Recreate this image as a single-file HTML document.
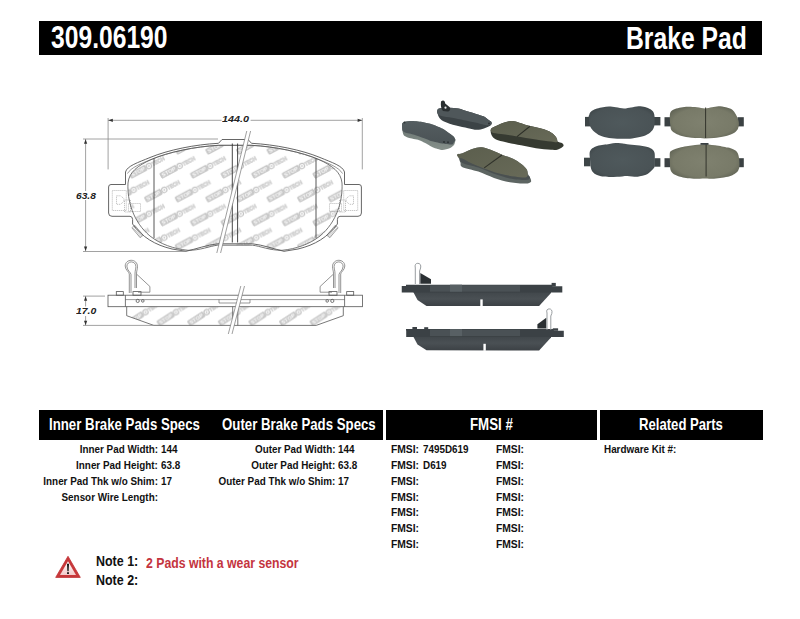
<!DOCTYPE html>
<html><head><meta charset="utf-8"><style>
html,body{margin:0;padding:0;background:#fff;}
body{width:800px;height:619px;position:relative;overflow:hidden;font-family:"Liberation Sans",sans-serif;font-weight:bold;color:#111;}
.a{position:absolute;white-space:nowrap;line-height:1;transform-origin:0 0;}
.bar{position:absolute;background:#000;}
.w{color:#fff;}
.t{font-size:10.85px;transform:scaleX(0.91);}
.f{transform:scaleX(0.95);}
.lr{transform-origin:100% 0;}
.h{font-size:16.5px;top:416.1px;color:#fff;}
.dim{font-style:italic;font-weight:bold;color:#222;}
svg{position:absolute;left:0;top:0;}
</style></head><body>
<!-- top bar -->
<div class="bar" style="left:39px;top:20.5px;width:722.6px;height:34.2px"></div>
<div class="a w" style="left:51px;top:21.8px;font-size:31.14px;transform:scaleX(0.792)">309.06190</div>
<div class="a w" style="left:625.9px;top:23.1px;font-size:31px;transform:scaleX(0.797)">Brake Pad</div>
<svg width="800" height="619" viewBox="0 0 800 619">
<defs><pattern id="st" patternUnits="userSpaceOnUse" x="0" y="0" width="30.6" height="47.8" patternTransform="translate(162,178.8)">
<g><g transform="rotate(-28)">
<rect x="0.4" y="-5.8" width="17.7" height="5.4" rx="0.6" fill="#cacaca" stroke="#bcbcbc" stroke-width="0.7"/>
<text x="1.6" y="-1.3" font-family="Liberation Sans" font-weight="bold" font-size="5.2" fill="#fafafa" textLength="15.3" lengthAdjust="spacingAndGlyphs">STOP</text>
<circle cx="21.6" cy="-3.1" r="2.6" fill="none" stroke="#c0c0c0" stroke-width="1.1"/>
<circle cx="21.6" cy="-3.1" r="1" fill="#cdcdcd"/>
<text x="24.8" y="-1.1" font-family="Liberation Sans" font-weight="bold" font-size="5.6" fill="none" stroke="#cbcbcb" stroke-width="0.65" textLength="14" lengthAdjust="spacingAndGlyphs">TECH</text>
</g></g>
<g transform="translate(15.3,23.9)"><g transform="rotate(-28)">
<rect x="0.4" y="-5.8" width="17.7" height="5.4" rx="0.6" fill="#cacaca" stroke="#bcbcbc" stroke-width="0.7"/>
<text x="1.6" y="-1.3" font-family="Liberation Sans" font-weight="bold" font-size="5.2" fill="#fafafa" textLength="15.3" lengthAdjust="spacingAndGlyphs">STOP</text>
<circle cx="21.6" cy="-3.1" r="2.6" fill="none" stroke="#c0c0c0" stroke-width="1.1"/>
<circle cx="21.6" cy="-3.1" r="1" fill="#cdcdcd"/>
<text x="24.8" y="-1.1" font-family="Liberation Sans" font-weight="bold" font-size="5.6" fill="none" stroke="#cbcbcb" stroke-width="0.65" textLength="14" lengthAdjust="spacingAndGlyphs">TECH</text>
</g></g>
<g transform="translate(-15.3,23.9)"><g transform="rotate(-28)">
<rect x="0.4" y="-5.8" width="17.7" height="5.4" rx="0.6" fill="#cacaca" stroke="#bcbcbc" stroke-width="0.7"/>
<text x="1.6" y="-1.3" font-family="Liberation Sans" font-weight="bold" font-size="5.2" fill="#fafafa" textLength="15.3" lengthAdjust="spacingAndGlyphs">STOP</text>
<circle cx="21.6" cy="-3.1" r="2.6" fill="none" stroke="#c0c0c0" stroke-width="1.1"/>
<circle cx="21.6" cy="-3.1" r="1" fill="#cdcdcd"/>
<text x="24.8" y="-1.1" font-family="Liberation Sans" font-weight="bold" font-size="5.6" fill="none" stroke="#cbcbcb" stroke-width="0.65" textLength="14" lengthAdjust="spacingAndGlyphs">TECH</text>
</g></g>
<g transform="translate(30.6,0)"><g transform="rotate(-28)">
<rect x="0.4" y="-5.8" width="17.7" height="5.4" rx="0.6" fill="#cacaca" stroke="#bcbcbc" stroke-width="0.7"/>
<text x="1.6" y="-1.3" font-family="Liberation Sans" font-weight="bold" font-size="5.2" fill="#fafafa" textLength="15.3" lengthAdjust="spacingAndGlyphs">STOP</text>
<circle cx="21.6" cy="-3.1" r="2.6" fill="none" stroke="#c0c0c0" stroke-width="1.1"/>
<circle cx="21.6" cy="-3.1" r="1" fill="#cdcdcd"/>
<text x="24.8" y="-1.1" font-family="Liberation Sans" font-weight="bold" font-size="5.6" fill="none" stroke="#cbcbcb" stroke-width="0.65" textLength="14" lengthAdjust="spacingAndGlyphs">TECH</text>
</g></g>
<g transform="translate(0,47.8)"><g transform="rotate(-28)">
<rect x="0.4" y="-5.8" width="17.7" height="5.4" rx="0.6" fill="#cacaca" stroke="#bcbcbc" stroke-width="0.7"/>
<text x="1.6" y="-1.3" font-family="Liberation Sans" font-weight="bold" font-size="5.2" fill="#fafafa" textLength="15.3" lengthAdjust="spacingAndGlyphs">STOP</text>
<circle cx="21.6" cy="-3.1" r="2.6" fill="none" stroke="#c0c0c0" stroke-width="1.1"/>
<circle cx="21.6" cy="-3.1" r="1" fill="#cdcdcd"/>
<text x="24.8" y="-1.1" font-family="Liberation Sans" font-weight="bold" font-size="5.6" fill="none" stroke="#cbcbcb" stroke-width="0.65" textLength="14" lengthAdjust="spacingAndGlyphs">TECH</text>
</g></g>
<g transform="translate(30.6,47.8)"><g transform="rotate(-28)">
<rect x="0.4" y="-5.8" width="17.7" height="5.4" rx="0.6" fill="#cacaca" stroke="#bcbcbc" stroke-width="0.7"/>
<text x="1.6" y="-1.3" font-family="Liberation Sans" font-weight="bold" font-size="5.2" fill="#fafafa" textLength="15.3" lengthAdjust="spacingAndGlyphs">STOP</text>
<circle cx="21.6" cy="-3.1" r="2.6" fill="none" stroke="#c0c0c0" stroke-width="1.1"/>
<circle cx="21.6" cy="-3.1" r="1" fill="#cdcdcd"/>
<text x="24.8" y="-1.1" font-family="Liberation Sans" font-weight="bold" font-size="5.6" fill="none" stroke="#cbcbcb" stroke-width="0.65" textLength="14" lengthAdjust="spacingAndGlyphs">TECH</text>
</g></g>
<g transform="translate(-15.3,-23.9)"><g transform="rotate(-28)">
<rect x="0.4" y="-5.8" width="17.7" height="5.4" rx="0.6" fill="#cacaca" stroke="#bcbcbc" stroke-width="0.7"/>
<text x="1.6" y="-1.3" font-family="Liberation Sans" font-weight="bold" font-size="5.2" fill="#fafafa" textLength="15.3" lengthAdjust="spacingAndGlyphs">STOP</text>
<circle cx="21.6" cy="-3.1" r="2.6" fill="none" stroke="#c0c0c0" stroke-width="1.1"/>
<circle cx="21.6" cy="-3.1" r="1" fill="#cdcdcd"/>
<text x="24.8" y="-1.1" font-family="Liberation Sans" font-weight="bold" font-size="5.6" fill="none" stroke="#cbcbcb" stroke-width="0.65" textLength="14" lengthAdjust="spacingAndGlyphs">TECH</text>
</g></g>
<g transform="translate(15.3,-23.9)"><g transform="rotate(-28)">
<rect x="0.4" y="-5.8" width="17.7" height="5.4" rx="0.6" fill="#cacaca" stroke="#bcbcbc" stroke-width="0.7"/>
<text x="1.6" y="-1.3" font-family="Liberation Sans" font-weight="bold" font-size="5.2" fill="#fafafa" textLength="15.3" lengthAdjust="spacingAndGlyphs">STOP</text>
<circle cx="21.6" cy="-3.1" r="2.6" fill="none" stroke="#c0c0c0" stroke-width="1.1"/>
<circle cx="21.6" cy="-3.1" r="1" fill="#cdcdcd"/>
<text x="24.8" y="-1.1" font-family="Liberation Sans" font-weight="bold" font-size="5.6" fill="none" stroke="#cbcbcb" stroke-width="0.65" textLength="14" lengthAdjust="spacingAndGlyphs">TECH</text>
</g></g>
<g transform="translate(-30.6,0)"><g transform="rotate(-28)">
<rect x="0.4" y="-5.8" width="17.7" height="5.4" rx="0.6" fill="#cacaca" stroke="#bcbcbc" stroke-width="0.7"/>
<text x="1.6" y="-1.3" font-family="Liberation Sans" font-weight="bold" font-size="5.2" fill="#fafafa" textLength="15.3" lengthAdjust="spacingAndGlyphs">STOP</text>
<circle cx="21.6" cy="-3.1" r="2.6" fill="none" stroke="#c0c0c0" stroke-width="1.1"/>
<circle cx="21.6" cy="-3.1" r="1" fill="#cdcdcd"/>
<text x="24.8" y="-1.1" font-family="Liberation Sans" font-weight="bold" font-size="5.6" fill="none" stroke="#cbcbcb" stroke-width="0.65" textLength="14" lengthAdjust="spacingAndGlyphs">TECH</text>
</g></g>
<g transform="translate(-30.6,47.8)"><g transform="rotate(-28)">
<rect x="0.4" y="-5.8" width="17.7" height="5.4" rx="0.6" fill="#cacaca" stroke="#bcbcbc" stroke-width="0.7"/>
<text x="1.6" y="-1.3" font-family="Liberation Sans" font-weight="bold" font-size="5.2" fill="#fafafa" textLength="15.3" lengthAdjust="spacingAndGlyphs">STOP</text>
<circle cx="21.6" cy="-3.1" r="2.6" fill="none" stroke="#c0c0c0" stroke-width="1.1"/>
<circle cx="21.6" cy="-3.1" r="1" fill="#cdcdcd"/>
<text x="24.8" y="-1.1" font-family="Liberation Sans" font-weight="bold" font-size="5.6" fill="none" stroke="#cbcbcb" stroke-width="0.65" textLength="14" lengthAdjust="spacingAndGlyphs">TECH</text>
</g></g>
</pattern>
<clipPath id="fc"><path d="M 235,145.3 L 218.8,145.3 C 195,146.5 168,152.2 151,159.6 C 138,165.5 129,172 128,183 C 127,200 133,222 150,236 C 160,244 174,249 188,250.3 C 200,250.5 210,246 217.5,245.2 L 235,245.2 L 252.5,245.2 C 260,246 270,250.5 282,250.3 C 296,249 310,244 320,236 C 337,222 343,200 342,183 C 341,172 332,165.5 319,159.6 C 302,152.2 275,146.5 251.2,145.3 L 235,145.3 Z"/></clipPath>
</defs>
<path d="M 235,145.3 L 218.8,145.3 C 195,146.5 168,152.2 151,159.6 C 138,165.5 129,172 128,183 C 127,200 133,222 150,236 C 160,244 174,249 188,250.3 C 200,250.5 210,246 217.5,245.2 L 235,245.2 L 252.5,245.2 C 260,246 270,250.5 282,250.3 C 296,249 310,244 320,236 C 337,222 343,200 342,183 C 341,172 332,165.5 319,159.6 C 302,152.2 275,146.5 251.2,145.3 L 235,145.3 Z" fill="#fff"/>
<rect x="100" y="130" width="270" height="130" fill="url(#st)" clip-path="url(#fc)"/>
<g stroke="#9a9a9a" stroke-width="0.6" fill="none" stroke-dasharray="1.2 0.8">
<path d="M116.5,195.8 L120.5,195.8 L123.8,198.5 L123.8,201.5 L120.5,204.3 L116.5,204.3 Z"/>
<rect x="112.3" y="190.5" width="14" height="20"/>
<rect x="124.5" y="200" width="6" height="12"/>
<rect x="128.5" y="203.5" width="12" height="8"/>
</g>
<g transform="rotate(50 137.5 231.5)"><rect x="131" y="229.6" width="13" height="3.8" fill="#fff" stroke="#777" stroke-width="0.6"/>
<path d="M132.5,229.6v3.8M134,229.6v3.8M135.5,229.6v3.8M137,229.6v3.8M138.5,229.6v3.8M140,229.6v3.8M141.5,229.6v3.8M143,229.6v3.8" stroke="#888" stroke-width="0.5"/></g><g transform="translate(470.0,0) scale(-1,1)"><g stroke="#9a9a9a" stroke-width="0.6" fill="none" stroke-dasharray="1.2 0.8">
<path d="M116.5,195.8 L120.5,195.8 L123.8,198.5 L123.8,201.5 L120.5,204.3 L116.5,204.3 Z"/>
<rect x="112.3" y="190.5" width="14" height="20"/>
<rect x="124.5" y="200" width="6" height="12"/>
<rect x="128.5" y="203.5" width="12" height="8"/>
</g>
<g transform="rotate(50 137.5 231.5)"><rect x="131" y="229.6" width="13" height="3.8" fill="#fff" stroke="#777" stroke-width="0.6"/>
<path d="M132.5,229.6v3.8M134,229.6v3.8M135.5,229.6v3.8M137,229.6v3.8M138.5,229.6v3.8M140,229.6v3.8M141.5,229.6v3.8M143,229.6v3.8" stroke="#888" stroke-width="0.5"/></g></g>
<path d="M 235,139.5 L 222,139.5 L 218.5,143.3 C 195,144.5 168,150 150,157.5 C 138,162.5 127,166 125.5,172 L 125.5,184.5 L 111,184.5 Q 108.6,184.5 108.6,187 L 108.6,213 Q 108.6,216.3 112,216.3 L 130,216.3 Q 132.6,216.5 132.6,219.5 L 132.6,224 C 142,237 155,245 172,249 L 186,251.3 C 196,249 207,245 217.5,243.8 L 235,243.8 L 252.5,243.8 C 263,245 274,249 284,251.3 L 298,249 C 315,245 328,237 337.4,224 L 337.4,219.5 Q 337.4,216.5 340,216.3 L 358,216.3 Q 361.4,216.3 361.4,213 L 361.4,187 Q 361.4,184.5 359,184.5 L 344.5,184.5 L 344.5,172 C 343,166 332,162.5 320,157.5 C 302,150 275,144.5 251.5,143.3 L 248,139.5 L 235,139.5 Z" fill="none" stroke="#555" stroke-width="0.9"/>
<path d="M 235,145.3 L 218.8,145.3 C 195,146.5 168,152.2 151,159.6 C 141,163.5 131,167.5 127.5,173.5 M 235,145.3 L 251.2,145.3 C 275,146.5 302,152.2 319,159.6 C 329,163.5 339,167.5 342.5,173.5" fill="none" stroke="#555" stroke-width="0.6"/>
<path d="M 235,145.3 L 218.8,145.3 C 195,146.5 168,152.2 151,159.6 C 138,165.5 129,172 128,183 C 127,200 133,222 150,236 C 160,244 174,249 188,250.3 C 200,250.5 210,246 217.5,245.2 L 235,245.2 L 252.5,245.2 C 260,246 270,250.5 282,250.3 C 296,249 310,244 320,236 C 337,222 343,200 342,183 C 341,172 332,165.5 319,159.6 C 302,152.2 275,146.5 251.2,145.3 L 235,145.3 Z" fill="none" stroke="#555" stroke-width="0.8"/>
<path d="M154,158.5 V238 M316,158.5 V238" stroke="#444" stroke-width="0.9"/>
<path d="M232.3,143.5 V242.5 M237.6,143.5 V242.5" stroke="#333" stroke-width="0.9"/>
<path d="M246.75,131 L250.6,131 L220.6,253 L216.8,253 Z" fill="#fff"/>
<path d="M246.75,131 L216.8,253 M250.6,131 L220.6,253" stroke="#777" stroke-width="0.7"/>

<defs><clipPath id="sc"><path d="M126.7,306.7 V315.7 L153.8,325.4 H316.2 L343.3,315.7 V306.7 Z"/></clipPath>
<pattern id="st2" patternUnits="userSpaceOnUse" width="30.6" height="200" patternTransform="translate(129,226.5)">
<g transform="translate(0,100)"><g transform="rotate(-33)">
<rect x="0.4" y="-5.8" width="17.7" height="5.4" rx="0.6" fill="#cacaca" stroke="#bcbcbc" stroke-width="0.7"/>
<text x="1.6" y="-1.3" font-family="Liberation Sans" font-weight="bold" font-size="5.2" fill="#fafafa" textLength="15.3" lengthAdjust="spacingAndGlyphs">STOP</text>
<circle cx="21.6" cy="-3.1" r="2.6" fill="none" stroke="#c0c0c0" stroke-width="1.1"/>
<circle cx="21.6" cy="-3.1" r="1" fill="#cdcdcd"/>
<text x="24.8" y="-1.1" font-family="Liberation Sans" font-weight="bold" font-size="5.6" fill="none" stroke="#cbcbcb" stroke-width="0.65" textLength="14" lengthAdjust="spacingAndGlyphs">TECH</text>
</g></g><g transform="translate(30.6,100)"><g transform="rotate(-33)">
<rect x="0.4" y="-5.8" width="17.7" height="5.4" rx="0.6" fill="#cacaca" stroke="#bcbcbc" stroke-width="0.7"/>
<text x="1.6" y="-1.3" font-family="Liberation Sans" font-weight="bold" font-size="5.2" fill="#fafafa" textLength="15.3" lengthAdjust="spacingAndGlyphs">STOP</text>
<circle cx="21.6" cy="-3.1" r="2.6" fill="none" stroke="#c0c0c0" stroke-width="1.1"/>
<circle cx="21.6" cy="-3.1" r="1" fill="#cdcdcd"/>
<text x="24.8" y="-1.1" font-family="Liberation Sans" font-weight="bold" font-size="5.6" fill="none" stroke="#cbcbcb" stroke-width="0.65" textLength="14" lengthAdjust="spacingAndGlyphs">TECH</text>
</g></g><g transform="translate(-30.6,100)"><g transform="rotate(-33)">
<rect x="0.4" y="-5.8" width="17.7" height="5.4" rx="0.6" fill="#cacaca" stroke="#bcbcbc" stroke-width="0.7"/>
<text x="1.6" y="-1.3" font-family="Liberation Sans" font-weight="bold" font-size="5.2" fill="#fafafa" textLength="15.3" lengthAdjust="spacingAndGlyphs">STOP</text>
<circle cx="21.6" cy="-3.1" r="2.6" fill="none" stroke="#c0c0c0" stroke-width="1.1"/>
<circle cx="21.6" cy="-3.1" r="1" fill="#cdcdcd"/>
<text x="24.8" y="-1.1" font-family="Liberation Sans" font-weight="bold" font-size="5.6" fill="none" stroke="#cbcbcb" stroke-width="0.65" textLength="14" lengthAdjust="spacingAndGlyphs">TECH</text>
</g></g>
</pattern></defs>
<rect x="120" y="300" width="230" height="30" fill="url(#st2)" clip-path="url(#sc)" transform="translate(0,0)"/>
<g stroke="#555" stroke-width="0.8" fill="none">
<rect x="108" y="295.2" width="254.4" height="11.5"/>
<path d="M125.4,295.2 V306.7 M344.6,295.2 V306.7"/>
<path d="M125.4,299.6 H344.6" stroke-width="0.6"/>
<path d="M126.7,306.7 V315.7 L153.8,325.4 H316.2 L343.3,315.7 V306.7"/>
<path d="M232.7,306.7 V325.4 M237.8,306.7 V325.4"/>
<path d="M219,299.6 V303 H250 V299.6" stroke-width="0.6"/>
<rect x="116.3" y="291.6" width="7" height="3.6"/>
<rect x="133" y="291.6" width="8" height="3.6"/>
<rect x="346.7" y="291.6" width="7" height="3.6"/>
<rect x="329" y="291.6" width="8" height="3.6"/>
<circle cx="137.7" cy="300.9" r="1.6"/><circle cx="142.8" cy="300.9" r="1.3"/>
<circle cx="332.3" cy="300.9" r="1.6"/><circle cx="327.2" cy="300.9" r="1.3"/>
</g>
<g id="clipL" stroke="#666" stroke-width="0.7" fill="none">
<path d="M129.3,293 V274 C129.3,272 125.2,270 125.2,266 C125.2,262.5 128,260.3 131.3,260.3 C134.8,260.3 137.5,263 137.5,266.5 C137.5,269 136.5,271 136.5,274 V288"/>
<path d="M131,293 V274.5 C131,272.5 126.9,270.5 126.9,266.2 C126.9,263.6 129,261.9 131.3,261.9 C134,261.9 135.9,264 135.9,266.5 C135.9,268.7 135,270.5 135,274 V288"/>
<path d="M137,274.5 L149.9,286.5 V292.2 H138"/>
</g>
<use href="#clipL" transform="translate(470,0) scale(-1,1)"/>
<path d="M240.8,286 L244.5,286 L232,334 L228.3,334 Z" fill="#fff"/>
<path d="M240.8,286 L228.3,334 M244.5,286 L232,334" stroke="#777" stroke-width="0.7"/>

<g stroke="#8a8a8a" stroke-width="0.8" fill="none">
<path d="M108.1,120.3 H221.6 M250.6,120.3 H362.3"/>
<path d="M108.1,118 V169.4 M362.3,118 V169.4"/>
<path d="M85.6,139 V191 M85.6,200 V251.3"/>
<path d="M83,139 H218 M83,251.5 H186"/>
<path d="M85.6,296.1 V306.5 M85.6,316 V325.4"/>
<path d="M83,296.1 H105 M83,325.4 H160"/>
</g>
<path d="M108.3,120.3 l4.5,-1.6 v3.2 Z" fill="#333"/><path d="M362.1,120.3 l-4.5,-1.6 v3.2 Z" fill="#333"/>
<path d="M85.6,139.2 l-1.6,4.5 h3.2 Z" fill="#333"/><path d="M85.6,251.1 l-1.6,-4.5 h3.2 Z" fill="#333"/>
<path d="M85.6,296.3 l-1.6,4.5 h3.2 Z" fill="#333"/><path d="M85.6,325.2 l-1.6,-4.5 h3.2 Z" fill="#333"/>
</svg><svg width="800" height="619" viewBox="0 0 800 619">
<defs>
<radialGradient id="gE" cx="0.5" cy="0.5" r="0.6"><stop offset="0" stop-color="#4f595c"/><stop offset="0.8" stop-color="#4a5356"/><stop offset="1" stop-color="#3f474a"/></radialGradient>
<radialGradient id="gF" cx="0.5" cy="0.5" r="0.6"><stop offset="0" stop-color="#7f816f"/><stop offset="0.75" stop-color="#787a68"/><stop offset="1" stop-color="#5f6254"/></radialGradient>
<linearGradient id="gA" x1="0" y1="0" x2="0" y2="1"><stop offset="0" stop-color="#545d60"/><stop offset="1" stop-color="#4a5255"/></linearGradient>
<linearGradient id="gAs" x1="0" y1="0" x2="0" y2="1"><stop offset="0" stop-color="#65706c"/><stop offset="1" stop-color="#86908b"/></linearGradient>
<linearGradient id="gC" x1="0" y1="0" x2="1" y2="1"><stop offset="0" stop-color="#5b5e4d"/><stop offset="1" stop-color="#686a58"/></linearGradient>
<linearGradient id="gS" x1="0" y1="0" x2="0" y2="1"><stop offset="0" stop-color="#40464a"/><stop offset="0.5" stop-color="#4a5054"/><stop offset="1" stop-color="#3c4145"/></linearGradient>
</defs>
<!-- pad A -->
<path d="M402.2,123.5 C402.5,122.51 403.8,121.98 405,121.7 C406.2,121.42 410.38,121.03 412.5,121.1 C414.62,121.17 420.89,121.91 423.2,122.3 C425.51,122.69 430.08,123.68 432.3,124.4 C434.52,125.12 440.18,127.44 442.2,128.5 C444.22,129.56 448.25,132.54 449.6,133.5 C450.95,134.46 453.12,135.99 453.8,136.75 C454.48,137.51 455.38,139.04 455.4,140 C455.42,140.96 454.68,144.03 454,145 C453.32,145.97 450.98,147.72 449.6,148.3 C448.22,148.88 444.12,150.09 442.2,150 C440.27,149.91 434.83,148.18 433.1,147.5 C431.37,146.82 429.03,145.05 427.4,144.2 C425.77,143.35 421.32,140.95 419.1,140.2 C416.88,139.45 410.19,138.37 408.4,137.8 C406.61,137.23 404.5,136.19 403.8,135.3 C403.1,134.41 402.59,131.58 402.4,130.2 C402.21,128.82 401.9,124.49 402.2,123.5 Z" fill="url(#gAs)" />
<path d="M402.2,123.5 C402.5,122.51 403.8,121.98 405,121.7 C406.2,121.42 410.38,121.03 412.5,121.1 C414.62,121.17 420.89,121.91 423.2,122.3 C425.51,122.69 430.08,123.68 432.3,124.4 C434.52,125.12 440.18,127.44 442.2,128.5 C444.22,129.56 448.25,132.54 449.6,133.5 C450.95,134.46 453.12,135.99 453.8,136.75 C454.48,137.51 455.4,139.33 455.4,140 C455.4,140.67 454.19,141.96 453.8,142.5 C453.42,143.04 453.45,144.47 452.1,144.6 C450.75,144.73 444.42,143.95 442.2,143.6 C439.98,143.25 435.32,142.25 433.1,141.6 C430.88,140.95 425.4,138.81 423.2,138 C421,137.19 416.32,135.34 414.2,134.7 C412.08,134.06 406.38,133.03 405,132.5 C403.62,131.97 402.73,131.25 402.4,130.2 C402.07,129.15 401.9,124.49 402.2,123.5 Z" fill="url(#gA)" />
<circle cx="404.5" cy="122.5" r="1" fill="#2e3436"/><circle cx="444" cy="142" r="1.1" fill="#2e3436"/><circle cx="448" cy="142.3" r="1" fill="#2e3436"/>
<!-- pad B -->
<path d="M437.6,109.6 C438.1,108.18 439.6,108.3 441.6,108 C443.6,107.7 446.8,107.7 449.6,107.8 C452.4,107.9 455.33,107.97 458.4,108.6 C461.47,109.23 464.93,110.67 468,111.6 C471.07,112.53 474.13,113.37 476.8,114.2 C479.47,115.03 482.13,115.7 484,116.6 C485.87,117.5 486.73,118.63 488,119.6 C489.27,120.57 491.18,121.42 491.6,122.4 C492.02,123.38 491.77,124.5 490.5,125.5 C489.23,126.5 486.28,127.68 484,128.4 C481.72,129.12 479.47,129.83 476.8,129.8 C474.13,129.77 471.47,128.9 468,128.2 C464.53,127.5 460,126.7 456,125.6 C452,124.5 446.9,123.12 444,121.6 C441.1,120.08 439.67,118.5 438.6,116.5 C437.53,114.5 437.1,111.02 437.6,109.6 Z" fill="#3c4346" />
<path d="M437.6,109.6 C438.3,108.68 439.6,108.3 441.6,108 C443.6,107.7 446.8,107.7 449.6,107.8 C452.4,107.9 455.33,107.97 458.4,108.6 C461.47,109.23 464.93,110.67 468,111.6 C471.07,112.53 474.13,113.37 476.8,114.2 C479.47,115.03 482.13,115.7 484,116.6 C485.87,117.5 486.73,118.63 488,119.6 C489.27,120.57 491.3,121.47 491.6,122.4 C491.9,123.33 491.07,124.8 489.8,125.2 C488.53,125.6 486.43,125.23 484,124.8 C481.57,124.37 478.53,123.37 475.2,122.6 C471.87,121.83 467.87,121 464,120.2 C460.13,119.4 455.73,118.5 452,117.8 C448.27,117.1 444.03,116.72 441.6,116 C439.17,115.28 438.07,114.57 437.4,113.5 C436.73,112.43 436.9,110.52 437.6,109.6 Z" fill="#4f575a" />
<path d="M441,101.5 C443,99.5 445,100.5 445.2,103.5 L449.5,107 C451,109 450,111.5 447.5,111.5 L443,111 C441,109 440.5,105 441,101.5 Z" fill="#2a2f31"/>
<circle cx="445.5" cy="107.7" r="1.1" fill="#e8e8e8"/>
<circle cx="489" cy="123.5" r="0.9" fill="#2a2f31"/>
<!-- pad C -->
<path d="M491,129 C491.75,127.5 493.5,127.17 496,126 C498.5,124.83 503,122.8 506,122 C509,121.2 510.17,120.57 514,121.2 C517.83,121.83 524.33,124.53 529,125.8 C533.67,127.07 538.33,127.7 542,128.8 C545.67,129.9 548.67,131.03 551,132.4 C553.33,133.77 554.92,135.48 556,137 C557.08,138.52 556.45,140.45 557.5,141.5 C558.55,142.55 561.33,142.52 562.3,143.3 C563.27,144.08 564.02,145.18 563.3,146.2 C562.58,147.22 560.05,148.8 558,149.4 C555.95,150 554.67,150 551,149.8 C547.33,149.6 541,148.95 536,148.2 C531,147.45 526,146.28 521,145.3 C516,144.32 510.17,143.27 506,142.3 C501.83,141.33 498.42,140.72 496,139.5 C493.58,138.28 492.33,136.75 491.5,135 C490.67,133.25 490.25,130.5 491,129 Z" fill="#363a31" />
<path d="M491,129 C491.67,127.93 493.5,127.17 496,126 C498.5,124.83 503,122.8 506,122 C509,121.2 510.17,120.57 514,121.2 C517.83,121.83 524.33,124.53 529,125.8 C533.67,127.07 538.33,127.7 542,128.8 C545.67,129.9 548.67,131.03 551,132.4 C553.33,133.77 554.97,135.4 556,137 C557.03,138.6 558.03,141.23 557.2,142 C556.37,142.77 554.53,142 551,141.6 C547.47,141.2 541.83,140.5 536,139.6 C530.17,138.7 521.83,137.13 516,136.2 C510.17,135.27 505,134.63 501,134 C497,133.37 493.67,133.23 492,132.4 C490.33,131.57 490.33,130.07 491,129 Z" fill="url(#gC)" />
<path d="M530,126.3 L517,136.6" stroke="#2c2e27" stroke-width="1.1"/>
<!-- pad D -->
<path d="M457.3,154.4 C457.97,153.68 459.88,154.13 462.5,153.2 C465.12,152.27 469.5,149.73 473,148.8 C476.5,147.87 478.77,146.67 483.5,147.6 C488.23,148.53 496.48,152.55 501.4,154.4 C506.32,156.25 509.68,157.1 513,158.7 C516.32,160.3 519.03,162.23 521.3,164 C523.57,165.77 525.48,167.63 526.6,169.3 C527.72,170.97 527.35,172.47 528,174 C528.65,175.53 530.03,177.17 530.5,178.5 C530.97,179.83 531.63,181.15 530.8,182 C529.97,182.85 529,183.57 525.5,183.6 C522,183.63 515.05,183.15 509.8,182.2 C504.55,181.25 499.25,179.67 494,177.9 C488.75,176.13 483.55,173.38 478.3,171.6 C473.05,169.82 465.48,168.72 462.5,167.2 C459.52,165.68 461.07,164.12 460.4,162.5 C459.73,160.88 459.02,158.85 458.5,157.5 C457.98,156.15 456.63,155.12 457.3,154.4 Z" fill="#5d6562" />
<path d="M460,158 C460,158.83 459.45,161.4 462.5,163 C465.55,164.6 473.05,165.8 478.3,167.6 C483.55,169.4 488.75,172 494,173.8 C499.25,175.6 504.55,177.37 509.8,178.4 C515.05,179.43 522.17,179.98 525.5,180 C528.83,180.02 529.45,179.25 529.8,178.5 C530.15,177.75 530.07,175.92 527.6,175.5 C525.13,175.08 519.72,176.42 515,176 C510.28,175.58 504.55,174.4 499.3,173 C494.05,171.6 488.23,169.37 483.5,167.6 C478.77,165.83 474.4,164 470.9,162.4 C467.4,160.8 464.32,158.73 462.5,158 C460.68,157.27 460,157.17 460,158 Z" fill="#4a5050"/>
<path d="M457.3,154.4 C457.97,153.68 459.88,154.13 462.5,153.2 C465.12,152.27 469.5,149.73 473,148.8 C476.5,147.87 478.77,146.67 483.5,147.6 C488.23,148.53 496.48,152.55 501.4,154.4 C506.32,156.25 509.68,157.1 513,158.7 C516.32,160.3 519.03,162.23 521.3,164 C523.57,165.77 525.55,167.55 526.6,169.3 C527.65,171.05 527.78,173.13 527.6,174.5 C527.42,175.87 527.6,177.15 525.5,177.5 C523.4,177.85 519.37,177.27 515,176.6 C510.63,175.93 504.55,174.9 499.3,173.5 C494.05,172.1 488.23,169.95 483.5,168.2 C478.77,166.45 474.4,164.6 470.9,163 C467.4,161.4 464.57,159.52 462.5,158.6 C460.43,157.68 459.37,158.2 458.5,157.5 C457.63,156.8 456.63,155.12 457.3,154.4 Z" fill="url(#gC)" />
<path d="M502,155 L484.2,167.9" stroke="#2f312a" stroke-width="1.1"/>
<!-- flat views -->
<rect x="585" y="116.9" width="6" height="9.5" fill="#3d4547"/><path d="M588.5,116 L592.5,113 L593.5,118 L590,120 Z" fill="#2e3436"/>
<rect x="654" y="117" width="6.4" height="8.4" fill="#3d4547"/>
<path d="M589.3,114.5 C589.72,112.97 590.85,111.7 592,110.8 C593.15,109.9 595.35,109.04 597,108.5 C598.65,107.96 601.2,107.48 603,107.2 C604.8,106.92 607.05,106.6 609,106.6 C610.95,106.6 613.75,106.93 616,107.2 C618.25,107.47 621.75,108.37 624,108.4 C626.25,108.43 628.83,107.73 631,107.4 C633.17,107.07 636.4,106.26 638.5,106.2 C640.6,106.14 643.2,106.53 645,107 C646.8,107.47 649.21,108.47 650.5,109.3 C651.79,110.12 652.99,111.34 653.6,112.5 C654.22,113.66 654.45,115.28 654.6,117 C654.75,118.72 654.81,122.2 654.6,124 C654.39,125.8 654.04,127.58 653.2,129 C652.36,130.43 650.68,132.36 649,133.5 C647.32,134.64 644.55,135.85 642,136.6 C639.45,137.35 635.3,138.17 632,138.5 C628.7,138.83 623.45,138.88 620,138.8 C616.55,138.73 612,138.5 609,138 C606,137.5 602.25,136.47 600,135.5 C597.75,134.53 595.42,132.78 594,131.5 C592.58,130.22 591.22,128.57 590.5,127 C589.78,125.42 589.38,122.88 589.2,121 C589.02,119.12 588.88,116.03 589.3,114.5 Z" fill="url(#gE)" />
<rect x="664.5" y="117.2" width="6.5" height="9.2" fill="#3b4143"/>
<rect x="737.5" y="117.2" width="6.3" height="9.2" fill="#3b4143"/>
<path d="M670.2,113 C670.53,111.89 671.28,111.2 672,110.6 C672.72,110 673.65,109.45 675,109 C676.35,108.55 679.05,107.94 681,107.6 C682.95,107.26 685.6,106.8 688,106.75 C690.4,106.7 694.45,107.05 697,107.3 C699.55,107.55 702.75,108.4 705,108.4 C707.25,108.4 709.98,107.63 712,107.3 C714.02,106.97 716.4,106.2 718.5,106.2 C720.6,106.2 723.98,106.79 726,107.3 C728.02,107.81 730.56,108.59 732,109.6 C733.44,110.6 734.7,112.59 735.6,114 C736.5,115.41 737.5,117.5 738,119 C738.5,120.5 738.96,122.42 738.9,124 C738.84,125.58 738.49,128.06 737.6,129.5 C736.72,130.94 734.89,132.58 733,133.6 C731.11,134.62 727.85,135.64 725,136.3 C722.15,136.96 717,137.69 714,138 C711,138.31 707.85,138.4 705,138.4 C702.15,138.4 697.55,138.16 695,138 C692.45,137.84 690.25,137.68 688,137.3 C685.75,136.93 682.02,136.18 680,135.5 C677.98,134.82 675.81,133.62 674.5,132.8 C673.19,131.98 671.93,131.17 671.3,130 C670.67,128.83 670.52,126.8 670.3,125 C670.07,123.2 669.81,119.8 669.8,118 C669.78,116.2 669.87,114.11 670.2,113 Z" fill="url(#gF)" />
<path d="M705.6,107.5 V138" stroke="#2a2b25" stroke-width="0.9"/>
<rect x="584" y="157.7" width="6.5" height="8.6" fill="#3d4547"/>
<rect x="654.3" y="158.2" width="6.1" height="8.5" fill="#3d4547"/>
<path d="M589.6,153 C589.8,151.2 590.58,149.99 591.5,149 C592.42,148.01 594.17,147 595.75,146.4 C597.33,145.8 600.16,145.33 602,145 C603.84,144.67 606.35,144.45 608,144.2 C609.65,143.94 611.46,143.48 613,143.3 C614.54,143.12 616.75,142.99 618.25,143 C619.75,143.01 621.65,143.22 623,143.4 C624.35,143.58 625.15,143.91 627.25,144.2 C629.35,144.48 633.96,144.88 637,145.3 C640.04,145.72 645.17,146.37 647.5,147 C649.83,147.63 651.43,148.6 652.5,149.5 C653.57,150.4 654.25,151.43 654.6,153 C654.95,154.57 654.8,157.97 654.8,160 C654.8,162.03 654.93,165.07 654.6,166.5 C654.27,167.93 653.67,168.38 652.6,169.5 C651.53,170.62 649.24,173.03 647.5,174 C645.76,174.97 642.69,175.58 641,176 C639.31,176.42 638.31,176.81 636.25,176.8 C634.19,176.79 630.12,175.9 627.25,175.9 C624.38,175.9 619.84,176.64 617.1,176.8 C614.36,176.97 611.19,177.03 609,177 C606.81,176.97 604.38,176.93 602.5,176.6 C600.62,176.27 597.92,175.45 596.5,174.8 C595.08,174.16 593.84,173.32 593,172.3 C592.16,171.28 591.32,169.69 590.9,168 C590.48,166.31 590.39,163.25 590.2,161 C590.01,158.75 589.4,154.8 589.6,153 Z" fill="url(#gE)" />
<rect x="664.5" y="158.2" width="6" height="9" fill="#3b4143"/>
<rect x="738.5" y="158.2" width="5.3" height="9" fill="#3b4143"/>
<path d="M669.8,153 C670.04,151.32 670.78,151.37 671.5,150.8 C672.22,150.23 673.18,149.74 674.6,149.2 C676.02,148.66 678.98,147.69 681,147.2 C683.02,146.7 686,146.23 688.1,145.9 C690.2,145.57 693.14,145.19 695,145 C696.86,144.81 698.49,144.69 700.5,144.6 C702.51,144.51 706.23,144.3 708.4,144.4 C710.57,144.5 712.98,145 715,145.3 C717.02,145.6 719.95,146.06 721.9,146.4 C723.85,146.75 726.32,147.17 728,147.6 C729.68,148.03 731.81,148.66 733.1,149.25 C734.39,149.84 735.81,150.64 736.6,151.5 C737.39,152.36 738,153.65 738.4,155 C738.8,156.35 739.16,158.66 739.3,160.5 C739.43,162.34 739.55,165.6 739.3,167.25 C739.04,168.9 738.32,170.49 737.6,171.5 C736.88,172.51 735.68,173.29 734.5,174 C733.32,174.71 731.58,175.68 729.7,176.25 C727.83,176.82 724.36,177.43 722,177.8 C719.64,178.17 716.55,178.61 714,178.7 C711.45,178.79 708.04,178.4 705,178.4 C701.96,178.4 696.6,178.76 693.75,178.7 C690.9,178.64 688.02,178.28 686,178 C683.98,177.72 681.81,177.25 680.25,176.8 C678.69,176.35 676.78,175.59 675.6,175 C674.42,174.41 673.18,173.72 672.4,172.9 C671.62,172.08 670.77,171.13 670.4,169.5 C670.02,167.87 669.99,164.47 669.9,162 C669.81,159.53 669.56,154.68 669.8,153 Z" fill="url(#gF)" />
<path d="M706.1,143.3 V176.5" stroke="#2a2b25" stroke-width="0.9"/><rect x="700.5" y="143" width="8" height="1.8" fill="#3b4143"/>

<path d="M413,291.5 L417.5,300 L426.5,305.9 L539.1,306.1 L551,293 V292 Z" fill="url(#gS)"/>
<path d="M401.75,286 H406 V284.7 H552.3 V286.3 H562.3 V292.5 H401.75 Z" fill="#3b4145"/>
<rect x="430" y="285.2" width="90" height="6.5" fill="#4a5155"/>
<rect x="450" y="284.7" width="12" height="7" fill="#586064"/>
<rect x="480.3" y="299.4" width="2.4" height="7" fill="#fff"/>

<path d="M413,335.9 L417.5,344.4 L426.5,350.29999999999995 L539.1,350.5 L551,337.4 V336.4 Z" fill="url(#gS)"/>
<path d="M406.2,330.4 H406 V329.09999999999997 H553.8 V330.7 H563.8 V336.9 H406.2 Z" fill="#3b4145"/>
<rect x="430" y="329.59999999999997" width="90" height="6.5" fill="#4a5155"/>
<rect x="450" y="329.09999999999997" width="12" height="7" fill="#586064"/>
<rect x="483.408" y="343.79999999999995" width="2.4" height="7" fill="#fff"/>

<rect x="551.6" y="282.9" width="4.2" height="3.6" fill="#3b4145"/>
<rect x="412.4" y="327" width="4.6" height="3" fill="#3b4145"/>
<rect x="424.2" y="327.2" width="4" height="2.8" fill="#3b4145"/>
<rect x="552.8" y="328.3" width="5.3" height="2.5" fill="#3b4145"/>
<path d="M420.3,273 L431,279.2 V283.8 H420.3 Z" fill="#2b3033"/>
<path d="M415.3,284 V268 C414.5,264.5 416,263.3 417.8,263.3 C420,263.3 421.3,265 420.6,268 L419.6,271 V284" fill="none" stroke="#8d9295" stroke-width="0.9"/>
<path d="M537.4,324.3 L546.3,317.8 V328.5 H537.4 Z" fill="#2b3033"/>
<path d="M547,330 V313 C546,310 547.5,308.9 549.2,308.9 C551.2,308.9 552.6,310.5 551.8,313.5 L550.8,316 V330" fill="none" stroke="#8d9295" stroke-width="0.9"/>
</svg>
<div class="a dim" style="left:222.2px;top:114.9px;font-size:9.26px;transform:scaleX(1.166)">144.0</div>
<div class="a dim" style="left:75.6px;top:192.5px;font-size:8.19px;transform:scaleX(1.25)">63.8</div>
<div class="a dim" style="left:75.6px;top:308px;font-size:8.19px;transform:scaleX(1.275)">17.0</div>
<!-- table header -->
<div class="bar" style="left:39px;top:410.3px;width:344px;height:29.8px"></div>
<div class="bar" style="left:386px;top:410.3px;width:211px;height:29.8px"></div>
<div class="bar" style="left:600px;top:410.3px;width:162.5px;height:29.8px"></div>
<div class="a h" style="left:48.85px;transform:scaleX(0.803)">Inner Brake Pads Specs</div>
<div class="a h" style="left:221.5px;transform:scaleX(0.802)">Outer Brake Pads Specs</div>
<div class="a h" style="left:470.4px;font-size:16.3px;transform:scaleX(0.816)">FMSI #</div>
<div class="a h" style="left:638.95px;font-size:16.3px;transform:scaleX(0.806)">Related Parts</div>
<div class="a t lr" style="right:641.9px;top:444.25px">Inner Pad Width:</div>
<div class="a t" style="left:161.2px;top:444.25px">144</div>
<div class="a t lr" style="right:641.9px;top:460.02px">Inner Pad Height:</div>
<div class="a t" style="left:161.2px;top:460.02px">63.8</div>
<div class="a t lr" style="right:641.9px;top:475.79px">Inner Pad Thk w/o Shim:</div>
<div class="a t" style="left:161.2px;top:475.79px">17</div>
<div class="a t lr" style="right:641.9px;top:491.56px">Sensor Wire Length:</div>
<div class="a t lr" style="right:464.8px;top:444.25px">Outer Pad Width:</div>
<div class="a t" style="left:338.2px;top:444.25px">144</div>
<div class="a t lr" style="right:464.8px;top:460.02px">Outer Pad Height:</div>
<div class="a t" style="left:338.2px;top:460.02px">63.8</div>
<div class="a t lr" style="right:464.8px;top:475.79px">Outer Pad Thk w/o Shim:</div>
<div class="a t" style="left:338.2px;top:475.79px">17</div>
<div class="a t f" style="left:391.4px;top:444.25px">FMSI:</div>
<div class="a t" style="left:423.3px;top:444.25px">7495D619</div>
<div class="a t f" style="left:496.2px;top:444.25px">FMSI:</div>
<div class="a t f" style="left:391.4px;top:460.02px">FMSI:</div>
<div class="a t" style="left:423.3px;top:460.02px">D619</div>
<div class="a t f" style="left:496.2px;top:460.02px">FMSI:</div>
<div class="a t f" style="left:391.4px;top:475.79px">FMSI:</div>
<div class="a t f" style="left:496.2px;top:475.79px">FMSI:</div>
<div class="a t f" style="left:391.4px;top:491.56px">FMSI:</div>
<div class="a t f" style="left:496.2px;top:491.56px">FMSI:</div>
<div class="a t f" style="left:391.4px;top:507.33px">FMSI:</div>
<div class="a t f" style="left:496.2px;top:507.33px">FMSI:</div>
<div class="a t f" style="left:391.4px;top:523.10px">FMSI:</div>
<div class="a t f" style="left:496.2px;top:523.10px">FMSI:</div>
<div class="a t f" style="left:391.4px;top:538.87px">FMSI:</div>
<div class="a t f" style="left:496.2px;top:538.87px">FMSI:</div>
<div class="a t" style="left:603.9px;top:444.25px">Hardware Kit #:</div>
<!-- notes -->
<div class="a" style="left:96.2px;top:554.4px;font-size:14.26px;transform:scaleX(0.874)">Note 1:</div>
<div class="a" style="left:96.2px;top:573.1px;font-size:14.26px;transform:scaleX(0.874)">Note 2:</div>
<div class="a" style="left:146.2px;top:555.8px;font-size:14.18px;transform:scaleX(0.865);color:#c4343e">2 Pads with a wear sensor</div>
<svg width="800" height="619" viewBox="0 0 800 619">
<defs><linearGradient id="wg" x1="0" y1="0" x2="0" y2="1"><stop offset="0" stop-color="#fff"/><stop offset="1" stop-color="#f3c9c9"/></linearGradient></defs>
<path d="M68,556.3 L80.3,577.4 L55.7,577.4 Z" fill="#c8383a" stroke="#c03034" stroke-width="0.8" stroke-linejoin="round"/>
<path d="M68,561.3 L76,575 L60,575 Z" fill="url(#wg)"/>
<path d="M67,563.8 H69 L68.6,571.2 H67.4 Z" fill="#111"/>
<rect x="67.1" y="572.2" width="1.8" height="1.8" fill="#111"/>
</svg>
</body></html>
